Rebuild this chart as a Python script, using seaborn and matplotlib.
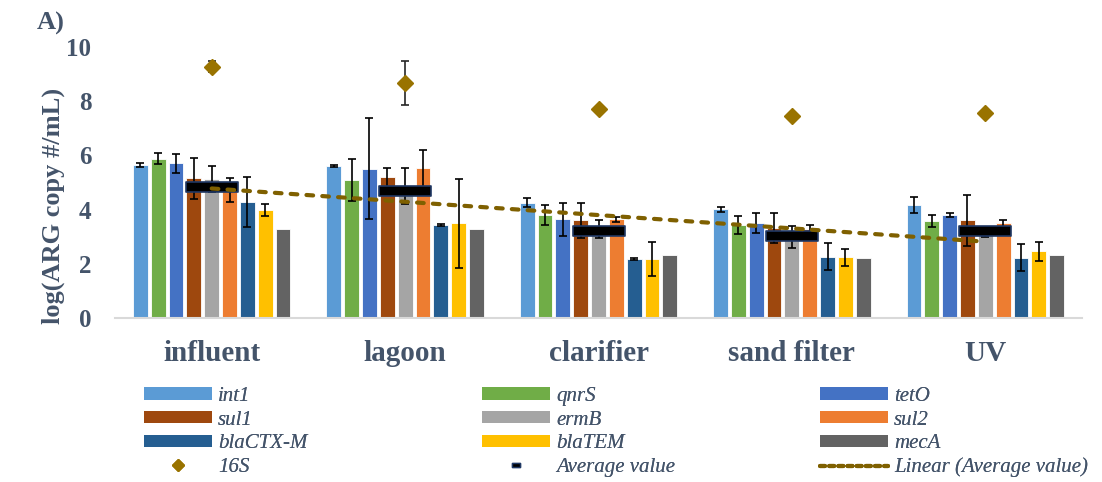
import numpy as np
import pandas as pd
import matplotlib
matplotlib.use("Agg")
import matplotlib.pyplot as plt
from matplotlib.lines import Line2D
from matplotlib.patches import Patch
from matplotlib.path import Path
import seaborn as sns

# ---- data -------------------------------------------------------------
sites = ["influent", "lagoon", "clarifier", "sand filter", "UV"]
genes = ["int1", "qnrS", "tetO", "sul1", "ermB", "sul2", "blaCTX-M", "blaTEM", "mecA"]

int1 = [5.65, 5.61, 4.26, 4.01, 4.17]
qnrS = [5.88, 5.08, 3.80, 3.43, 3.57]
tetO = [5.71, 5.51, 3.64, 3.50, 3.81]
sul1 = [5.15, 5.19, 3.60, 3.31, 3.60]
ermB = [5.12, 4.87, 3.28, 3.00, 3.10]
sul2 = [4.72, 5.52, 3.64, 3.28, 3.49]
blaCTXM = [4.27, 3.43, 2.17, 2.26, 2.23]
blaTEM = [4.00, 3.50, 2.19, 2.24, 2.46]
mecA = [3.27, 3.28, 2.34, 2.20, 2.31]

int1_err = [0.08, 0.02, 0.17, 0.10, 0.31]
qnrS_err = [0.20, 0.77, 0.38, 0.32, 0.23]
tetO_err = [0.36, 1.87, 0.62, 0.36, 0.08]
sul1_err = [0.75, 0.35, 0.66, 0.55, 0.94]
ermB_err = [0.48, 0.66, 0.34, 0.41, 0.10]
sul2_err = [0.44, 0.69, 0.10, 0.15, 0.13]
blaCTXM_err = [0.92, 0.03, 0.03, 0.49, 0.51]
blaTEM_err = [0.22, 1.64, 0.63, 0.32, 0.36]
mecA_err = [0.0, 0.0, 0.0, 0.0, 0.0]

s16 = [9.28, 8.66, 7.70, 7.45, 7.55]
s16_err = [0.20, 0.81, 0.0, 0.0, 0.0]

avg_value = [4.85, 4.67, 3.22, 3.04, 3.21]

colors = ["#5B9BD5", "#70AD47", "#4472C4", "#9E480E", "#A5A5A5",
          "#ED7D31", "#255E91", "#FFC000", "#636363"]
text_col = "#44546A"
c16 = "#997300"
trend_col = "#7F6000"

gene_vals = [int1, qnrS, tetO, sul1, ermB, sul2, blaCTXM, blaTEM, mecA]
gene_errs = [int1_err, qnrS_err, tetO_err, sul1_err, ermB_err, sul2_err,
             blaCTXM_err, blaTEM_err, mecA_err]

df = pd.DataFrame([
    {"site": s, "gene": g, "value": v}
    for g, vals in zip(genes, gene_vals)
    for s, v in zip(sites, vals)
])

# ---- figure -----------------------------------------------------------
sns.set_style("white")
plt.rcParams["font.family"] = ["Liberation Serif", "DejaVu Serif"]

fig = plt.figure(figsize=(11.02, 4.82), dpi=100)
ax = fig.add_axes([115 / 1102, 1 - 318 / 482, 967 / 1102, 271 / 482])

sns.barplot(data=df, x="site", y="value", hue="gene", order=sites,
            hue_order=genes, palette=colors, width=0.83, gap=0.17,
            errorbar=None, legend=False, edgecolor="white", linewidth=0.6,
            saturation=1, ax=ax, zorder=2)

# error bars on each bar, placed at the bar positions seaborn drew
for cont, errs in zip(ax.containers, gene_errs):
    xs = np.array([p.get_x() + p.get_width() / 2 for p in cont.patches])
    hs = np.array([p.get_height() for p in cont.patches])
    e = np.array(errs)
    mask = e > 0
    if mask.any():
        ax.errorbar(xs[mask], hs[mask], yerr=e[mask],
                    fmt="none", ecolor="black", elinewidth=1.2, capsize=3,
                    capthick=1.2, zorder=3)

pos = np.asarray(ax.get_xticks(), dtype=float)

# average-value marker: wide flat box
box = Path([(-1, -0.21), (1, -0.21), (1, 0.21), (-1, 0.21), (-1, -0.21)],
           [Path.MOVETO, Path.LINETO, Path.LINETO, Path.LINETO, Path.CLOSEPOLY])
ax.plot(pos, avg_value, linestyle="none", marker=box, markersize=37,
        markerfacecolor="black", markeredgecolor="#203864",
        markeredgewidth=1.2, zorder=4)

# linear trend of average values
k, b = np.polyfit(pos, avg_value, 1)
ax.plot(pos, k * pos + b, color=trend_col, lw=3, dashes=(1.6, 2.2),
        dash_capstyle="round", zorder=5)

# 16S
ax.errorbar(pos, s16, yerr=s16_err, fmt="D", color=c16, markersize=8.5,
            ecolor="#262626", elinewidth=1.2, capsize=3, capthick=1.2,
            zorder=6)

# ---- axes styling -----------------------------------------------------
ax.set_xlim(-0.5, 4.5)
ax.set_ylim(0, 10)
ax.set_yticks([0, 2, 4, 6, 8, 10])
for sp in ["top", "right", "left"]:
    ax.spines[sp].set_visible(False)
ax.spines["bottom"].set_color("#D9D9D9")
ax.spines["bottom"].set_linewidth(1.5)
ax.tick_params(axis="both", length=0)
ax.tick_params(axis="y", pad=17, labelsize=18, labelcolor=text_col)
ax.tick_params(axis="x", pad=16, labelsize=21, labelcolor=text_col)
for lab in ax.get_xticklabels() + ax.get_yticklabels():
    lab.set_fontweight("bold")
ax.set_xlabel("")
ax.set_ylabel("log(ARG copy #/mL)", fontsize=19, fontweight="bold",
              color=text_col)
ax.yaxis.set_label_coords(-0.052, 0.413)

fig.text(37 / 1102, 1 - 30 / 482, "A)", fontsize=19, fontweight="bold",
         color=text_col)

# ---- legend (three columns) ------------------------------------------
bar_handles = [Patch(facecolor=c, edgecolor="none") for c in colors]
h16 = Line2D([], [], linestyle="none", marker="D", markersize=6, color=c16)
small_box = Path([(-1, -0.4), (1, -0.4), (1, 0.4), (-1, 0.4), (-1, -0.4)],
                 [Path.MOVETO, Path.LINETO, Path.LINETO, Path.LINETO, Path.CLOSEPOLY])
havg = Line2D([], [], linestyle="none", marker=small_box, markersize=6,
              markerfacecolor="black", markeredgecolor="#203864",
              markeredgewidth=1)
htrend = Line2D([], [], color=trend_col, lw=3, dashes=(1.2, 1.0),
                dash_capstyle="round")

columns = [
    ([bar_handles[0], bar_handles[3], bar_handles[6], h16],
     [genes[0], genes[3], genes[6], "16S"], 144),
    ([bar_handles[1], bar_handles[4], bar_handles[7], havg],
     [genes[1], genes[4], genes[7], "Average value"], 482),
    ([bar_handles[2], bar_handles[5], bar_handles[8], htrend],
     [genes[2], genes[5], genes[8], "Linear (Average value)"], 820),
]
for handles, labels, xpx in columns:
    leg = fig.legend(handles, labels, loc="upper left",
                     bbox_to_anchor=(xpx / 1102, 1 - 387 / 482),
                     frameon=False, handlelength=3.26,
                     handleheight=0.55, handletextpad=0.3, labelspacing=0.22,
                     borderpad=0, borderaxespad=0,
                     prop={"style": "italic", "size": 15})
    for t in leg.get_texts():
        t.set_color(text_col)
    fig.add_artist(leg)

fig.savefig("out.png", dpi=100)
